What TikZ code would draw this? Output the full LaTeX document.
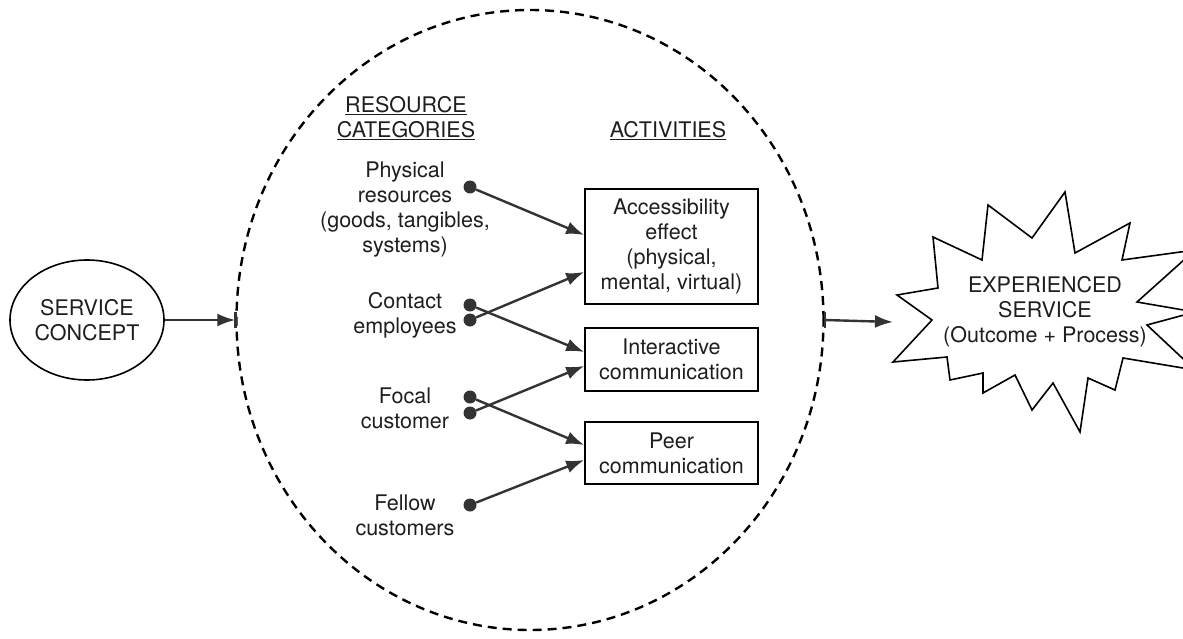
\documentclass[tikz,border=0pt]{standalone}
\usepackage{fontspec}
\setmainfont{TeX Gyre Heros}
\usetikzlibrary{shapes.geometric,arrows.meta}
\definecolor{ink}{HTML}{1e1e1e}
\definecolor{lin}{HTML}{333333}
\begin{document}
\begin{tikzpicture}[x=1pt,y=-1pt,
 txt/.style={align=center,font=\fontsize{21.5}{25}\selectfont,text=ink,inner sep=0pt},
 actbox/.style={draw=black,line width=1.6pt,minimum width=173pt,inner sep=0pt,align=center,font=\fontsize{21.5}{25}\selectfont,text=ink},
 dot/.style={circle,fill=lin,minimum size=13pt,inner sep=0pt},
 arr/.style={draw=lin,line width=2.4pt,-{Latex[length=18pt,width=13pt]}},
]
\clip (0,0) rectangle (1183,639);
\fill[white] (0,0) rectangle (1183,639);

% system boundary
\node[draw=black,ellipse,dash pattern=on 9pt off 6pt,line width=2.4pt,minimum width=587pt,minimum height=620pt,inner sep=0pt] (sys) at (530,320) {};

% service concept
\node[draw=black,ellipse,line width=1.6pt,minimum width=154pt,minimum height=120pt,inner sep=0pt,txt] (sc) at (87,320) {SERVICE\\CONCEPT};

% headings
\node[txt] (res) at (406,118) {\underline{RESOURCE}\\\underline{CATEGORIES}};
\node[txt] (act) at (668,131) {\underline{ACTIVITIES}};

% resources
\node[txt] (phys) at (405,210) {Physical\\resources\\(goods, tangibles,\\systems)};
\node[txt] (cont) at (405,315) {Contact\\employees};
\node[txt] (foc) at (405,408) {Focal\\customer};
\node[txt] (fel) at (405,515) {Fellow\\customers};

% activity boxes
\node[actbox,minimum height=115pt] (b1) at (671.5,246.5) {Accessibility\\effect\\(physical,\\mental, virtual)};
\node[actbox,minimum height=63pt] (b2) at (671.5,359.5) {Interactive\\communication};
\node[actbox,minimum height=62pt] (b3) at (671.5,453) {Peer\\communication};

% dots
\node[dot] (d1) at (470,187) {};
\node[dot] (d2) at (470,305) {};
\node[dot] (d3) at (470,320) {};
\node[dot] (d4) at (470,397) {};
\node[dot] (d5) at (470,413) {};
\node[dot] (d6) at (470,505) {};

% connectors
\draw[arr] (d1) -- ([yshift=11.5pt]b1.west);
\draw[arr] (d2) -- ([yshift=7.5pt]b2.west);
\draw[arr] (d3) -- ([yshift=-25.5pt]b1.west);
\draw[arr] (d4) -- ([yshift=8pt]b3.west);
\draw[arr] (d5) -- ([yshift=-6.5pt]b2.west);
\draw[arr] (d6) -- ([yshift=-7pt]b3.west);

% starburst
\draw[line width=1.6pt,fill=white] (897,295) -- (938,288) -- (933,237) -- (982,260) -- (988,205) -- (1032,238) -- (1065,192) -- (1075,253) -- (1130,223) -- (1122,260) -- (1195,250) -- (1137,302) -- (1195,312) -- (1147,325) -- (1195,370) -- (1123,358) -- (1115,390) -- (1088,378) -- (1080,432) -- (1053,383) -- (1032,410) -- (1015,375) -- (983,393) -- (983,373) -- (950,380) -- (947,357) -- (893,362) -- (932,320) -- cycle;
\node[txt] (exp) at (1045,312) {EXPERIENCED\\SERVICE\\(Outcome + Process)};
\coordinate (starL) at (893,322);

% main flow
\draw[arr] (sc.east) -- (sys.west);
\draw[line width=2.4pt,lin] ([yshift=-8pt]sys.west) -- ([yshift=8pt]sys.west);
\draw[arr] (sys.east) -- (starL);
\draw[line width=2.4pt,lin] ([yshift=-8pt]sys.east) -- ([yshift=8pt]sys.east);
\end{tikzpicture}
\end{document}
